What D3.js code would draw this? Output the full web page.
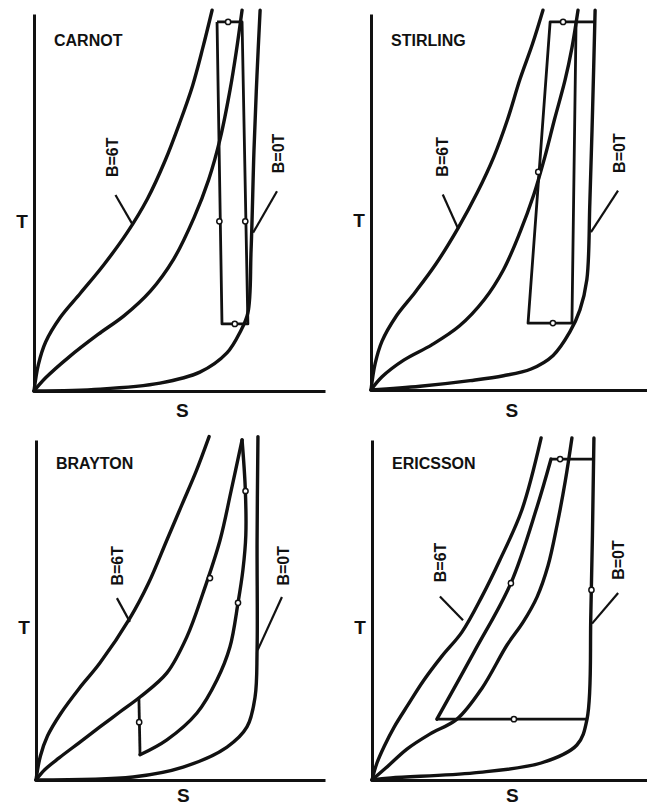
<!DOCTYPE html>
<html>
<head>
<meta charset="utf-8">
<script src="https://cdn.jsdelivr.net/npm/d3@7"></script>
<style>
  body { margin: 0; background: #fff; }
  text { font-family: "Liberation Sans", Arial, sans-serif; font-weight: bold; fill: #111; }
</style>
</head>
<body>
<svg id="fig" width="647" height="807"></svg>
<script>
// curves T(S) in arbitrary units 0..100

// CARNOT
var carnotB6 = [[0,0],[1.5,7],[4,13],[9,19.5],[16,26],[24,33.5],[32,42],[39,51],[45,61],[50,71],[54.5,81],[58,91],[61.2,101]];
var carnotMid = [[0,0],[4,3.5],[12,9],[22,15],[31,20],[40,26.5],[48,35],[55,46],[60,56],[64,67],[67.4,80],[69.5,90],[71.5,101]];
var carnotB0 = [[0,0],[22.7,0.5],[43.3,2.1],[57,5],[66.3,10.1],[70.8,15.6],[73.5,20.7],[74.6,37.4],[75.6,64],[76.6,83.3],[77.7,101]];
var carnotCycle = [[62.9,97.9],[71.5,97.9],[73.5,17.8],[64.6,17.8],[62.9,97.9]];
var carnotMarks = [[66.7,97.9],[69,17.8],[63.7,45],[72.6,45]];

// STIRLING
var stirlingB6 = [[0,0],[1.5,7],[4,13],[9,19.5],[16,26],[23.5,33.5],[31.5,43],[38.5,52.5],[44.5,62],[49.5,72],[54,82.7],[58.5,92],[62.3,101]];
var stirlingMid = [[0,0],[4,3.5],[12,8],[22,12],[32,17],[41,24],[48,32],[54,42],[59,52],[63,62],[66.5,72],[70.3,82.4],[72.8,91],[75,101]];
var stirlingB0 = [[0,0],[17.8,1],[35.9,2.5],[48,3.8],[58,5.6],[66,9.2],[72.1,15.5],[75.7,21.3],[78.2,29.3],[79.3,50],[80.3,75],[81.2,101]];
var stirlingCycle = [[74.3,97.9],[64.9,97.9],[56.9,17.8],[72.8,17.8],[74.3,97.9]];
var stirlingBar = [[74.3,97.9],[81.2,97.9]];
var stirlingMarks = [[69.6,97.9],[65.9,17.8],[60.6,58]];

// BRAYTON
var braytonB6 = [[0,0],[1.5,7],[4,13],[8.5,19.5],[15,27],[22.1,34.4],[32.5,47.6],[39,58],[45.3,70.6],[50.5,81],[55.5,91],[59.9,101]];
var braytonMid = [[0,0],[3,3],[8,6.5],[15,11],[22.1,15.6],[29,20],[36,24.4],[45.3,31.5],[52.2,42.1],[57.8,55],[63.7,70.6],[67.5,85],[71.3,100]];
var braytonB0 = [[0,0],[33.6,0.9],[50.9,3.8],[66.1,9.7],[73,15.6],[75.8,24.4],[76.5,38.2],[76.5,70.6],[76.8,101]];
var braytonIsentrope = [[35.6,24.4],[36,7.4]];
var braytonIsobar = [[36,7.4],[45.3,11.8],[55.7,19.7],[62.6,29.4],[67.1,39.1],[69.9,52.1],[71.6,61.8],[72.6,72],[72.4,86],[71.3,100]];
var braytonMarks = [[60.2,59.4],[69.9,52.1],[35.7,17],[72.5,85]];

// ERICSSON
var ericssonB6 = [[0,0],[1.8,5],[4.5,10],[8,15.5],[13,22],[18.9,29.4],[25.5,36.5],[32.7,43.5],[40,54],[46.5,64.7],[54.5,79.4],[61.5,100.6]];
var ericssonMid = [[0,0],[5,3.5],[12.7,9.1],[21,13.5],[30.9,17.9],[40,27],[49.1,39.7],[55,46.5],[60,53.8],[64,63],[67.3,75],[70.3,88],[72.7,100.6]];
var ericssonB0 = [[0,0],[6.9,0.6],[37.1,2.1],[61.5,5],[74.5,10.3],[78.2,17.9],[79.6,49.7],[80.7,100.6]];
var ericssonLeft = [[65.1,94.4],[60,80.3],[50.5,57.9],[37.1,37.6],[23.6,17.9]];
var ericssonBottom = [[23.6,17.9],[78.2,17.9]];
var ericssonTop = [[65.1,94.4],[80.7,94.4]];
var ericssonMarks = [[68.4,94.4],[50.5,57.9],[51.6,17.9],[79.8,55.9]];

// texts
var titles = ['CARNOT', 'STIRLING', 'BRAYTON', 'ERICSSON'];
var fieldLabels = ['B=6T', 'B=0T'];
var axisLabels = ['T', 'S'];

// panel layout (pixels)
var panels = [
    {title: titles[0], x0: 34, x1: 325, y0: 391, y1: 14, sy: 410,
     curves: [carnotB6, carnotMid, carnotB0], straight: [carnotCycle], smooth: [], marks: carnotMarks,
     b6: {lab: [27, 62], from: [28, 52], to: [34, 44]}, b0: {lab: [84, 63], from: [83.5, 53], to: [75.3, 42]}},
    {title: titles[1], x0: 371, x1: 647, y0: 390, y1: 14, sy: 410,
     curves: [stirlingB6, stirlingMid, stirlingB0], straight: [stirlingCycle, stirlingBar], smooth: [], marks: stirlingMarks,
     b6: {lab: [26, 62], from: [26, 52], to: [31.5, 43]}, b0: {lab: [90, 63], from: [89.5, 53], to: [79.7, 42]}},
    {title: titles[2], x0: 36, x1: 325, y0: 780, y1: 440, sy: 795,
     curves: [braytonB6, braytonMid, braytonB0], straight: [braytonIsentrope], smooth: [braytonIsobar], marks: braytonMarks,
     b6: {lab: [28, 63], from: [28, 53.5], to: [32.5, 46.5]}, b0: {lab: [85.5, 63], from: [85.1, 53.8], to: [76.7, 38.2]}},
    {title: titles[3], x0: 372, x1: 647, y0: 780, y1: 440, sy: 795,
     curves: [ericssonB6, ericssonMid, ericssonB0], straight: [ericssonBottom, ericssonTop], smooth: [ericssonLeft], marks: ericssonMarks,
     b6: {lab: [24.7, 64], from: [24.7, 54], to: [33.1, 47]}, b0: {lab: [89.5, 64.7], from: [89.5, 55], to: [80, 46]}}
];

var svg = d3.select('#fig');

function disegnaPannello(p) {
    var x = d3.scaleLinear().domain([0, 100]).range([p.x0, p.x1]);
    var y = d3.scaleLinear().domain([0, 100]).range([p.y0, p.y1]);
    var g = svg.append('g');

    // axes: only the domain lines, no ticks
    g.append('g').attr('transform', 'translate(0,' + p.y0 + ')')
        .call(d3.axisBottom(x).tickValues([]).tickSizeOuter(0));
    g.append('g').attr('transform', 'translate(' + p.x0 + ',0)')
        .call(d3.axisLeft(y).tickValues([]).tickSizeOuter(0));
    g.selectAll('.domain').attr('stroke', '#111').attr('stroke-width', 3);

    var curva = d3.line().x(function(d) { return x(d[0]); }).y(function(d) { return y(d[1]); })
        .curve(d3.curveCatmullRom.alpha(0.5));
    var retta = d3.line().x(function(d) { return x(d[0]); }).y(function(d) { return y(d[1]); });

    g.selectAll('.curva').data(p.curves.concat(p.smooth)).enter().append('path')
        .attr('d', curva).attr('fill', 'none').attr('stroke', '#111')
        .attr('stroke-width', 3.4).attr('stroke-linecap', 'round');

    g.selectAll('.ciclo').data(p.straight).enter().append('path')
        .attr('d', retta).attr('fill', 'none').attr('stroke', '#111')
        .attr('stroke-width', 2.8).attr('stroke-linejoin', 'round');

    g.selectAll('.segno').data(p.marks).enter().append('circle')
        .attr('cx', function(d) { return x(d[0]); })
        .attr('cy', function(d) { return y(d[1]); })
        .attr('r', 2.6).attr('fill', '#fff').attr('stroke', '#111').attr('stroke-width', 1.5);

    // title
    g.append('text').attr('x', p.x0 + 20).attr('y', p.y1 + (p.y0 - p.y1) * 0.085)
        .attr('font-size', 16).text(p.title);

    // axis names
    g.append('text').attr('x', p.x0 - 12).attr('y', y(45)).attr('dy', '0.35em')
        .attr('text-anchor', 'middle').attr('font-size', 19).text(axisLabels[0]);
    g.append('text').attr('x', x(51)).attr('y', p.sy).attr('dy', '0.35em')
        .attr('text-anchor', 'middle').attr('font-size', 19).text(axisLabels[1]);

    // field labels with leaders
    [[p.b6, fieldLabels[0]], [p.b0, fieldLabels[1]]].forEach(function(l) {
        var e = l[0];
        g.append('line').attr('x1', x(e.from[0])).attr('y1', y(e.from[1]))
            .attr('x2', x(e.to[0])).attr('y2', y(e.to[1]))
            .attr('stroke', '#111').attr('stroke-width', 2.2);
        g.append('text')
            .attr('transform', 'translate(' + x(e.lab[0]) + ',' + y(e.lab[1]) + ') rotate(-90)')
            .attr('text-anchor', 'middle').attr('dy', '0.35em')
            .attr('font-size', 16).text(l[1]);
    });
}

panels.forEach(disegnaPannello);
</script>
</body>
</html>
